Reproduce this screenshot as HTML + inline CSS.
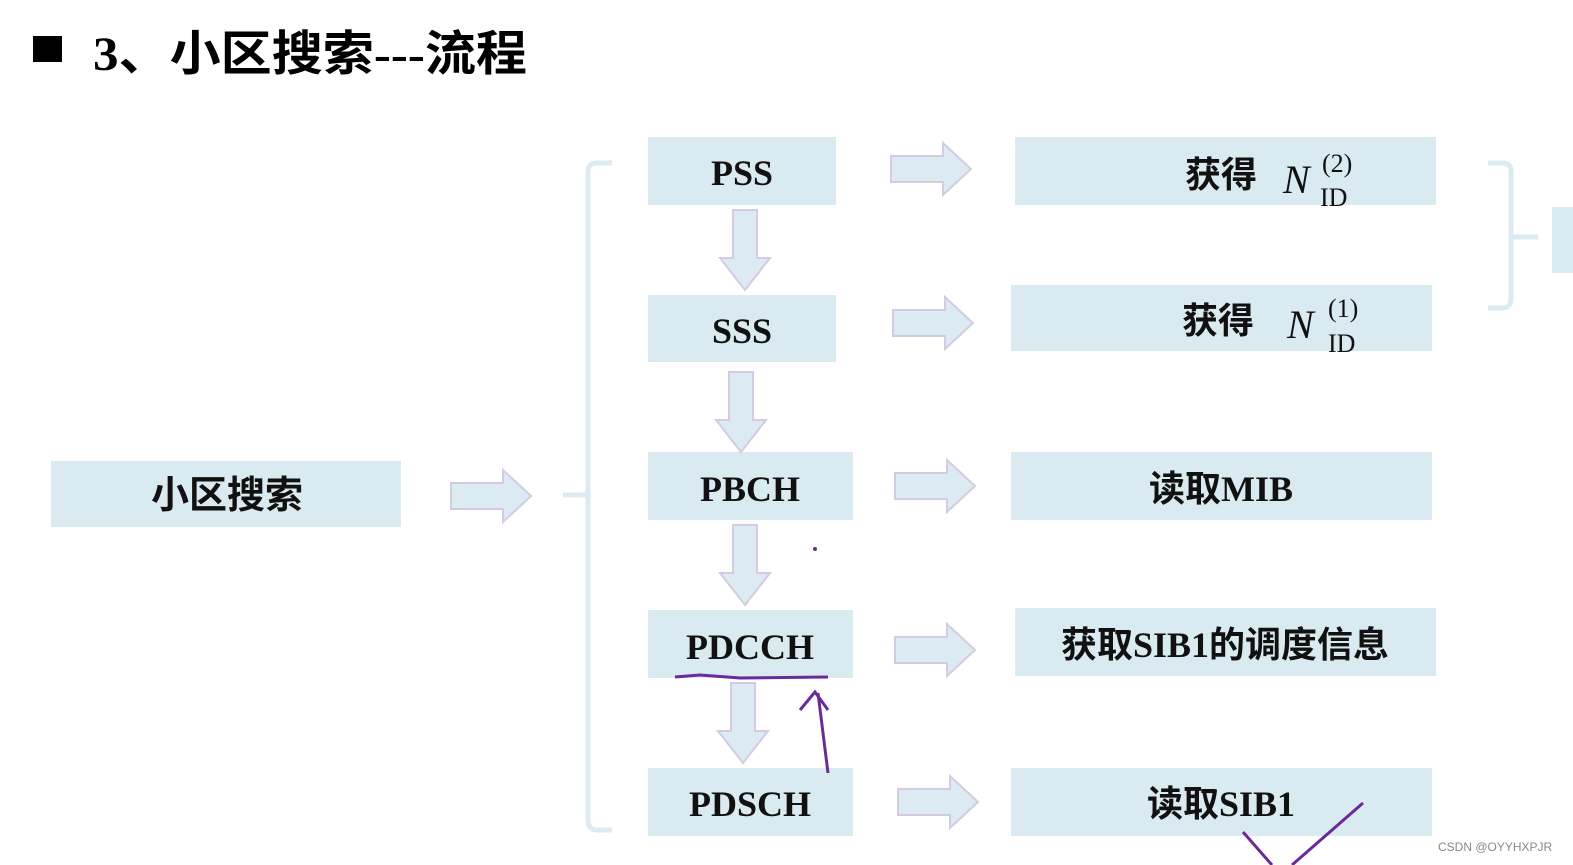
<!DOCTYPE html>
<html><head><meta charset="utf-8">
<style>
html,body{margin:0;padding:0;background:#fff;width:1573px;height:865px;overflow:hidden}
svg{display:block}
.cj{font-family:"Liberation Serif","Noto Sans CJK SC",sans-serif;font-weight:bold}
.tm{font-family:"Liberation Serif","Noto Serif CJK SC",serif;font-weight:bold}
</style></head><body>
<svg width="1573" height="865" viewBox="0 0 1573 865" xmlns="http://www.w3.org/2000/svg">
<defs>
<g id="ra"><polygon points="0,13 52,13 52,0 80,26 52,52 52,39 0,39" fill="#dcebf2" stroke="#d2cbe3" stroke-width="2"/></g>
<g id="da"><polygon points="13,0 37,0 37,48 50,48 25,80 0,48 13,48" fill="#dcebf2" stroke="#d2cbe3" stroke-width="2"/></g>
</defs>
<rect x="33" y="36" width="29" height="26" fill="#000"/>
<text x="93" y="70" class="cj" font-size="48" textLength="434" lengthAdjust="spacingAndGlyphs" fill="#000">3、小区搜索---流程</text>

<rect x="51" y="461" width="350" height="66" fill="#d9eaf1"/>
<text x="227" y="508" class="cj" font-size="38" text-anchor="middle" fill="#111">小区搜索</text>
<use href="#ra" x="451" y="470"/>

<path d="M612,163 H596 Q588,163 588,172 V820 Q588,830 597,830 H612" fill="none" stroke="#dcebf2" stroke-width="5"/>
<line x1="563" y1="495" x2="588" y2="495" stroke="#dcebf2" stroke-width="5"/>

<rect x="648" y="137" width="188" height="68" fill="#d9eaf1"/>
<text x="742" y="185" class="tm" font-size="36" text-anchor="middle" fill="#111">PSS</text>
<rect x="648" y="295" width="188" height="67" fill="#d9eaf1"/>
<text x="742" y="343" class="tm" font-size="36" text-anchor="middle" fill="#111">SSS</text>
<rect x="648" y="452" width="205" height="68" fill="#d9eaf1"/>
<text x="750" y="501" class="tm" font-size="36" text-anchor="middle" fill="#111">PBCH</text>
<rect x="648" y="610" width="205" height="68" fill="#d9eaf1"/>
<text x="750" y="659" class="tm" font-size="36" text-anchor="middle" fill="#111">PDCCH</text>
<rect x="648" y="768" width="205" height="68" fill="#d9eaf1"/>
<text x="750" y="816" class="tm" font-size="36" text-anchor="middle" fill="#111">PDSCH</text>

<use href="#da" x="720" y="210"/>
<use href="#da" x="716" y="372"/>
<use href="#da" x="720" y="525"/>
<use href="#da" x="718" y="683"/>

<use href="#ra" x="891" y="143"/>
<use href="#ra" x="893" y="297"/>
<use href="#ra" x="895" y="460"/>
<use href="#ra" x="895" y="624"/>
<use href="#ra" x="898" y="776"/>

<rect x="1015" y="137" width="421" height="68" fill="#d9eaf1"/>
<text x="1185" y="187" class="cj" font-size="36" fill="#111">获得</text>
<text x="1283" y="193" font-family="Liberation Serif,serif" font-style="italic" font-size="40" fill="#111">N</text>
<text x="1322" y="172" font-family="Liberation Serif,serif" font-size="26" fill="#111">(2)</text>
<text x="1320" y="206" font-family="Liberation Serif,serif" font-size="26" fill="#111">ID</text>

<rect x="1011" y="285" width="421" height="66" fill="#d9eaf1"/>
<text x="1182" y="333" class="cj" font-size="36" fill="#111">获得</text>
<text x="1287" y="338" font-family="Liberation Serif,serif" font-style="italic" font-size="40" fill="#111">N</text>
<text x="1328" y="317" font-family="Liberation Serif,serif" font-size="26" fill="#111">(1)</text>
<text x="1328" y="352" font-family="Liberation Serif,serif" font-size="26" fill="#111">ID</text>

<rect x="1011" y="452" width="421" height="68" fill="#d9eaf1"/>
<text x="1221" y="501" class="cj" font-size="36" text-anchor="middle" fill="#111">读取MIB</text>
<rect x="1015" y="608" width="421" height="68" fill="#d9eaf1"/>
<text x="1225" y="657" class="cj" font-size="36" text-anchor="middle" fill="#111">获取SIB1的调度信息</text>
<rect x="1011" y="768" width="421" height="68" fill="#d9eaf1"/>
<text x="1221" y="816" class="cj" font-size="36" text-anchor="middle" fill="#111">读取SIB1</text>

<path d="M1488,163 H1503 Q1511,163 1511,172 V299 Q1511,308 1502,308 H1488" fill="none" stroke="#dcebf2" stroke-width="5"/>
<line x1="1511" y1="237" x2="1538" y2="237" stroke="#dcebf2" stroke-width="5"/>
<rect x="1552" y="207" width="21" height="66" fill="#d9eaf1"/>

<path d="M675,677 L700,675 L740,678 L828,677" fill="none" stroke="#6a2a9a" stroke-width="3"/>
<path d="M828,773 L818,693" fill="none" stroke="#6a2a9a" stroke-width="3"/>
<path d="M800,710 L815,692 L828,710" fill="none" stroke="#6a2a9a" stroke-width="3"/>
<circle cx="815" cy="549" r="2" fill="#6a2a9a"/>
<path d="M1243,832 L1272,865 M1292,865 L1363,803" fill="none" stroke="#6a2a9a" stroke-width="3"/>

<text x="1438" y="851" font-family="Liberation Sans,sans-serif" font-size="12" fill="#888">CSDN @OYYHXPJR</text>
</svg>
</body></html>
